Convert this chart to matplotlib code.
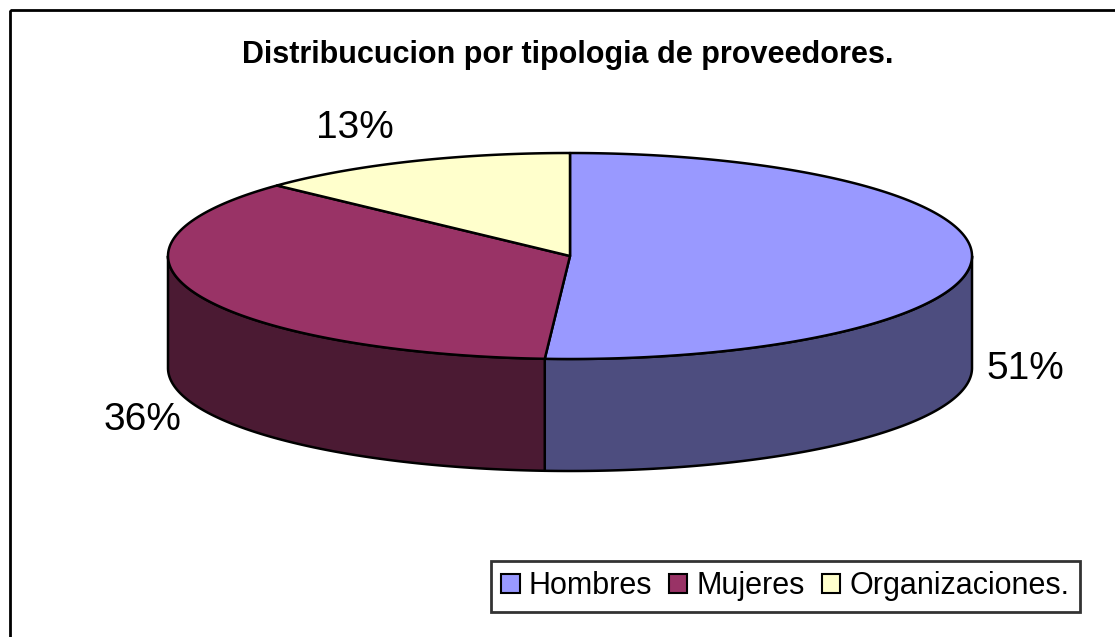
import matplotlib.pyplot as plt
from matplotlib.patches import Polygon, Patch, Rectangle
import numpy as np

# data
categories = ['Hombres', 'Mujeres', 'Organizaciones.']
values = [51, 36, 13]
pct_labels = ['51%', '36%', '13%']

top_colors = ['#9999FF', '#993366', '#FFFFCC']
side_colors = ['#4D4D7F', '#4B1A33', '#80806A']

# geometry of the 3d pie (pixel units, y down)
cx, cy = 570, 256
rx, ry = 402, 103
depth = 112
label_xy = [(1025, 369), (142, 420), (355, 128)]


def pt(theta):
    return cx + rx * np.cos(theta), cy - ry * np.sin(theta)


fig = plt.figure(figsize=(11.15, 6.37), dpi=100)
ax = fig.add_axes([0, 0, 1, 1])
ax.set_xlim(0, 1115)
ax.set_ylim(637, 0)
ax.axis('off')

# outer frame of the chart
ax.add_patch(Rectangle((10, 10), 1200, 700, fill=False, edgecolor='black', linewidth=2))

total = sum(values)
starts = []
ends = []
a = 90.0
for v in values:
    b = a - v / total * 360.0
    starts.append(a)
    ends.append(b)
    a = b

# side walls (only the front half, 180..360 deg, is visible)
for i in range(len(values)):
    s, e = ends[i], starts[i]
    while s < 0:
        s += 360
        e += 360
    lo_v = max(s, 180)
    hi_v = min(e, 360)
    if hi_v <= lo_v:
        continue
    th = np.radians(np.linspace(lo_v, hi_v, 200))
    xs, ys = pt(th)
    poly = list(zip(xs, ys)) + list(zip(xs[::-1], ys[::-1] + depth))
    ax.add_patch(Polygon(poly, closed=True, facecolor=side_colors[i],
                         edgecolor='black', linewidth=1.8, joinstyle='round'))

# top faces
for i in range(len(values)):
    th = np.radians(np.linspace(starts[i], ends[i], 300))
    xs, ys = pt(th)
    poly = [(cx, cy)] + list(zip(xs, ys))
    ax.add_patch(Polygon(poly, closed=True, facecolor=top_colors[i],
                         edgecolor='black', linewidth=1.8, joinstyle='round'))

for lab, (x, y) in zip(pct_labels, label_xy):
    ax.text(x, y, lab, fontsize=28, family='Liberation Sans',
            ha='center', va='center', color='black')

ax.text(568, 55, 'Distribucucion por tipologia de proveedores.', fontsize=22,
        fontweight='bold', family='Liberation Sans', ha='center', va='center')

handles = [Patch(facecolor=c, edgecolor='black', linewidth=1.5) for c in top_colors]
leg = ax.legend(handles, categories, loc='lower right', ncol=3,
                bbox_to_anchor=(1080 / 1115, 25 / 637),
                prop={'family': 'Liberation Sans', 'size': 22},
                frameon=True, fancybox=False, edgecolor='black',
                handlelength=0.6, handleheight=0.6, handletextpad=0.3,
                columnspacing=0.55, borderpad=0.35, borderaxespad=0)
leg.get_frame().set_linewidth(2)

fig.savefig('out.png', dpi=100)
